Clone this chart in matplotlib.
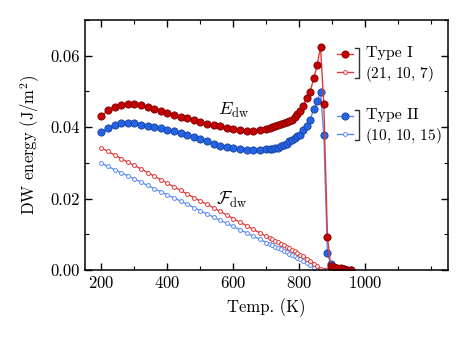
import matplotlib
matplotlib.use('Agg')
import matplotlib.pyplot as plt
from matplotlib.lines import Line2D

plt.rcParams['font.family'] = 'serif'
plt.rcParams['font.serif'] = ['cmr10']
plt.rcParams['mathtext.fontset'] = 'cm'
plt.rcParams['axes.formatter.use_mathtext'] = True
plt.rcParams['font.size'] = 12

# temperatures (K)
temp = [200, 220, 240, 260, 280, 300, 320, 340, 360, 380, 400, 420, 440, 460,
        480, 500, 520, 540, 560, 580, 600, 620, 640, 660, 680,
        700, 710, 718, 727, 735, 744, 752, 761, 769, 777, 786, 794, 803, 812,
        822, 832, 844, 854, 864, 874, 885, 895, 905, 915, 925, 935, 945, 955]

# Type I (21, 10, 7)
e_type1 = [0.0430, 0.0448, 0.0457, 0.0463, 0.0466, 0.0465, 0.0462, 0.0457, 0.0451,
           0.0445, 0.0439, 0.0434, 0.0429, 0.0425, 0.0420, 0.0415, 0.0410, 0.0406,
           0.0402, 0.0399, 0.0396, 0.0393, 0.0390, 0.0390, 0.0392,
           0.0395, 0.0398, 0.0400, 0.0402, 0.0405, 0.0408, 0.0412, 0.0415, 0.0418,
           0.0421, 0.0428, 0.0437, 0.0446, 0.0460, 0.0482, 0.0499, 0.0537, 0.0575,
           0.0625, 0.0464, 0.0093, 0.0012, 0.0008, 0.0006, 0.0005, 0.0003, 0.0001, 0.0]
f_type1 = [0.0342, 0.0332, 0.0322, 0.0312, 0.0302, 0.0293, 0.0283, 0.0273, 0.0263,
           0.0253, 0.0243, 0.0233, 0.0223, 0.0213, 0.0203, 0.0193, 0.0184, 0.0174,
           0.0164, 0.0154, 0.0144, 0.0134, 0.0124, 0.0114, 0.0104,
           0.0094, 0.0090, 0.0086, 0.0082, 0.0078, 0.0073, 0.0069, 0.0065, 0.0061,
           0.0056, 0.0052, 0.0047, 0.0043, 0.0038, 0.0032, 0.0026, 0.0018, 0.0010,
           0.0003, 0.0, 0.0, 0.0, 0.0, 0.0, 0.0, 0.0, 0.0, 0.0]

# Type II (10, 10, 15)
e_type2 = [0.0386, 0.0398, 0.0406, 0.0411, 0.0413, 0.0411, 0.0407, 0.0404, 0.0401,
           0.0397, 0.0392, 0.0388, 0.0383, 0.0378, 0.0372, 0.0366, 0.0360, 0.0353,
           0.0348, 0.0344, 0.0341, 0.0338, 0.0337, 0.0337, 0.0337,
           0.0338, 0.0339, 0.0340, 0.0341, 0.0343, 0.0347, 0.0351, 0.0353, 0.0360,
           0.0364, 0.0370, 0.0376, 0.0379, 0.0393, 0.0403, 0.0420, 0.0451, 0.0472,
           0.0499, 0.0379, 0.0047, 0.0016, 0.0006, 0.0004, 0.0003, 0.0002, 0.0001, 0.0]
f_type2 = [0.0299, 0.0290, 0.0281, 0.0272, 0.0264, 0.0255, 0.0246, 0.0237, 0.0228,
           0.0219, 0.0210, 0.0202, 0.0193, 0.0184, 0.0175, 0.0166, 0.0157, 0.0148,
           0.0139, 0.0131, 0.0122, 0.0113, 0.0104, 0.0095, 0.0086,
           0.0077, 0.0073, 0.0069, 0.0065, 0.0062, 0.0058, 0.0054, 0.0050, 0.0046,
           0.0043, 0.0039, 0.0035, 0.0031, 0.0026, 0.0020, 0.0014, 0.0007, 0.0001,
           0.0, 0.0, 0.0, 0.0, 0.0, 0.0, 0.0, 0.0, 0.0, 0.0]

red_line = '#e23a3a'
red_face = '#c60000'
red_edge = '#7a0000'
blue_line = '#5b8cf5'
blue_face = '#2563e6'
blue_edge = '#17409a'

fig = plt.figure(figsize=(4.69, 3.39), dpi=100)
ax = fig.add_axes([0.181, 0.2035, 0.774, 0.7375])

filled = dict(marker='o', ms=5.2, lw=1.0, mew=0.6)
hollow = dict(marker='o', ms=2.8, lw=1.0, mew=0.7, mfc='white')

ax.plot(temp, f_type2, color=blue_line, mec=blue_line, **hollow)
ax.plot(temp, f_type1, color=red_line, mec=red_line, **hollow)
ax.plot(temp, e_type2, color=blue_line, mfc=blue_face, mec=blue_edge, **filled)
ax.plot(temp, e_type1, color=red_line, mfc=red_face, mec=red_edge, **filled)

ax.set_xlim(150, 1250)
ax.set_ylim(0, 0.07)
ax.set_xticks([200, 400, 600, 800, 1000])
ax.set_xticks(range(200, 1250, 100), minor=True)
ax.set_yticks([0.0, 0.02, 0.04, 0.06])
ax.set_yticks([0.01, 0.03, 0.05, 0.07], minor=True)
ax.set_yticklabels(['0.00', '0.02', '0.04', '0.06'])
ax.tick_params(which='both', direction='in', top=True, right=True)
ax.tick_params(which='major', length=5, width=1)
ax.tick_params(which='minor', length=3, width=0.8)
for s in ax.spines.values():
    s.set_linewidth(1.1)

ax.set_xlabel('Temp. (K)', labelpad=5)
ax.set_ylabel(r'DW energy (J/m$^2$)', labelpad=6)

ax.text(600, 0.0446, r'$E_\mathrm{dw}$', ha='center', va='center', fontsize=13)
ax.text(595, 0.0195, r'$\mathcal{F}_\mathrm{dw}$', ha='center', va='center', fontsize=13)

# bracketed legend
groups = [(0.864, 0.793, red_line, red_face, red_edge, 'Type I', r'$(21,\,10,\,7)$'),
          (0.616, 0.544, blue_line, blue_face, blue_edge, 'Type II', r'$(10,\,10,\,15)$')]
for yf, yo, lc, fc, ec, name, dims in groups:
    ax.add_line(Line2D([0.695, 0.739], [yf, yf], transform=ax.transAxes, color=lc, lw=1.0))
    ax.add_line(Line2D([0.717], [yf], transform=ax.transAxes, marker='o', ms=5.2,
                       mfc=fc, mec=ec, mew=0.6, ls='none'))
    ax.add_line(Line2D([0.695, 0.739], [yo, yo], transform=ax.transAxes, color=lc, lw=1.0))
    ax.add_line(Line2D([0.717], [yo], transform=ax.transAxes, marker='o', ms=2.8,
                       mfc='white', mec=lc, mew=0.7, ls='none'))
    top = yf + 0.025
    bot = yo - 0.025
    ax.add_line(Line2D([0.745, 0.755, 0.755, 0.745], [top, top, bot, bot],
                       transform=ax.transAxes, color='#333333', lw=1.0))
    ax.text(0.774, yf + 0.006, name, transform=ax.transAxes, ha='left', va='center',
            fontsize=11.5)
    ax.text(0.771, yo - 0.008, dims, transform=ax.transAxes, ha='left', va='center',
            fontsize=11)

fig.savefig('out.png', dpi=100)
